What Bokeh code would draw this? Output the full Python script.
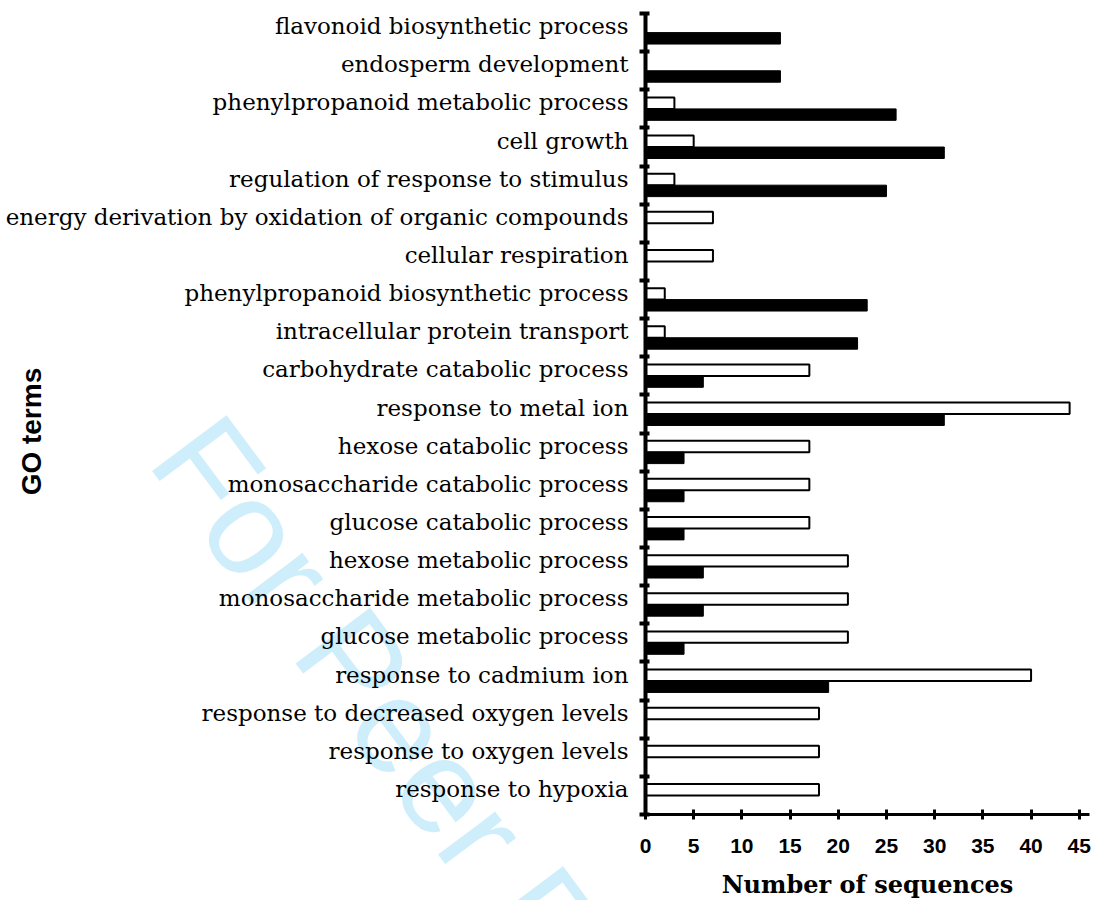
from bokeh.plotting import figure
from bokeh.models import ColumnDataSource, Range1d, FixedTicker, Label
from bokeh.transform import dodge
from bokeh.embed import file_html
from bokeh.resources import INLINE

# GO terms, listed from bottom to top
go_terms = [
    "response to hypoxia",
    "response to oxygen levels",
    "response to decreased oxygen levels",
    "response to cadmium ion",
    "glucose metabolic process",
    "monosaccharide metabolic process",
    "hexose metabolic process",
    "glucose catabolic process",
    "monosaccharide catabolic process",
    "hexose catabolic process",
    "response to metal ion",
    "carbohydrate catabolic process",
    "intracellular protein transport",
    "phenylpropanoid biosynthetic process",
    "cellular respiration",
    "energy derivation by oxidation of organic compounds",
    "regulation of response to stimulus",
    "cell growth",
    "phenylpropanoid metabolic process",
    "endosperm development",
    "flavonoid biosynthetic process",
]
# open (white) bars
open_counts = [18, 18, 18, 40, 21, 21, 21, 17, 17, 17, 44, 17, 2, 2, 7, 7, 3, 5, 3, 0, 0]
# filled (black) bars
filled_counts = [0, 0, 0, 19, 4, 6, 6, 4, 4, 4, 31, 6, 22, 23, 0, 0, 25, 31, 26, 14, 14]
x_ticks = [0, 5, 10, 15, 20, 25, 30, 35, 40, 45]

n = len(go_terms)
source = ColumnDataSource(dict(
    pos=list(range(n)),
    term=go_terms,
    open_counts=open_counts,
    filled_counts=filled_counts,
))

LAB_OFF = 0.17            # labels sit slightly above the band centre
Y_LO, Y_HI = -0.5 - LAB_OFF, n - 0.5 - LAB_OFF
X_LO, X_HI = 0, 46.1

# The frame fills the whole canvas; axes are pinned inside it with fixed_location,
# so the axis titles and the watermark can be drawn anywhere without clipping.
p = figure(
    width=1099, height=900,
    x_range=Range1d(-66.91, 47.10),
    y_range=Range1d(-2.925, 20.672),
    output_backend="svg", toolbar_location=None,
    min_border_left=0, min_border_right=0, min_border_top=0, min_border_bottom=0,
)
p.outline_line_color = None
p.xgrid.visible = False
p.ygrid.visible = False

# watermark
p.add_layout(Label(
    x=-48.0, y=9.3,
    text="For Peer Review", angle=-0.93,
    text_color="#cfeefb", text_font="Liberation Sans",
    text_font_size="135px",
    text_align="left", text_baseline="alphabetic", level="underlay",
))

p.hbar(y=dodge("pos", -LAB_OFF + 0.15), left=0, right="open_counts", height=0.3,
       source=source, fill_color="white", line_color="black", line_width=2)
p.hbar(y=dodge("pos", -LAB_OFF - 0.15), left=0, right="filled_counts", height=0.3,
       source=source, fill_color="black", line_color="black", line_width=1)

# y axis
ya = p.yaxis[0]
ya.fixed_location = 0
ya.bounds = (Y_LO, Y_HI)
ya.ticker = FixedTicker(ticks=list(range(n)),
                        minor_ticks=[i - 0.5 - LAB_OFF for i in range(n + 1)])
ya.major_label_overrides = {i: t for i, t in enumerate(go_terms)}
ya.major_tick_in = 0
ya.major_tick_out = 0
ya.minor_tick_in = 4
ya.minor_tick_out = 6
ya.minor_tick_line_width = 4
ya.minor_tick_line_color = "black"
ya.axis_line_width = 4
ya.axis_line_color = "black"
ya.major_label_standoff = 11
ya.major_label_text_font = "DejaVu Serif"
ya.major_label_text_font_size = "23px"
ya.major_label_text_color = "black"

# x axis
xa = p.xaxis[0]
xa.fixed_location = Y_LO
xa.bounds = (X_LO, X_HI)
xa.ticker = FixedTicker(ticks=x_ticks, minor_ticks=[])
xa.major_tick_in = 5
xa.major_tick_out = 5
xa.major_tick_line_width = 3
xa.major_tick_line_color = "black"
xa.axis_line_width = 3
xa.axis_line_color = "black"
xa.major_label_standoff = 20
xa.major_label_text_font = "Liberation Sans"
xa.major_label_text_font_style = "bold"
xa.major_label_text_font_size = "21px"
xa.major_label_text_color = "black"
xa.axis_label = "Number of sequences"
xa.axis_label_standoff = 13
xa.axis_label_text_font = "DejaVu Serif"
xa.axis_label_text_font_style = "bold"
xa.axis_label_text_font_size = "24px"
xa.axis_label_text_color = "black"

# y axis title
p.add_layout(Label(
    x=-63.7, y=9.37,
    text="GO terms", angle=1.5708,
    text_color="black", text_font="Liberation Sans", text_font_style="bold",
    text_font_size="28px", text_align="center", text_baseline="middle",
))

open("out.html", "w").write(file_html(p, INLINE))
